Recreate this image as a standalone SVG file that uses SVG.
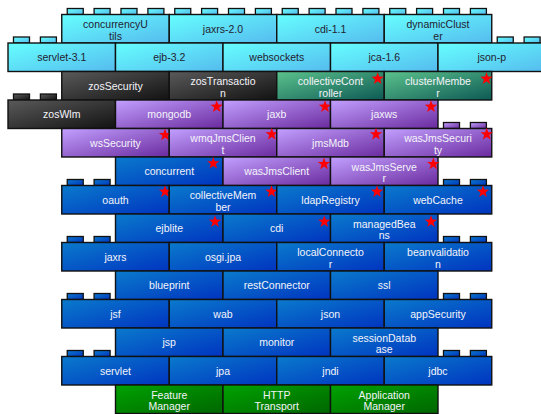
<svg xmlns="http://www.w3.org/2000/svg" xmlns:xlink="http://www.w3.org/1999/xlink" width="541" height="414" viewBox="0 0 541 414">
<defs>
<linearGradient id="gcy" x1="0" y1="0" x2="1" y2="1"><stop offset="0" stop-color="#66FFFF"/><stop offset="1" stop-color="#55BBEE"/></linearGradient>
<linearGradient id="gdk" x1="0" y1="0" x2="1" y2="1"><stop offset="0" stop-color="#5A5A5A"/><stop offset="1" stop-color="#121212"/></linearGradient>
<linearGradient id="gtl" x1="0" y1="0" x2="1" y2="1"><stop offset="0" stop-color="#5CC28C"/><stop offset="1" stop-color="#0D5A55"/></linearGradient>
<linearGradient id="gpu" x1="0" y1="0" x2="1" y2="1"><stop offset="0" stop-color="#C2A0FF"/><stop offset="1" stop-color="#6A2A9E"/></linearGradient>
<linearGradient id="gbl" x1="0" y1="0" x2="1" y2="1"><stop offset="0" stop-color="#0A7ACC"/><stop offset="1" stop-color="#0034C0"/></linearGradient>
<linearGradient id="ggr" x1="0" y1="0" x2="1" y2="1"><stop offset="0" stop-color="#00A200"/><stop offset="1" stop-color="#006600"/></linearGradient>
<path id="star" d="M0,-6.5 L1.53,-2.1 L6.18,-2.01 L2.47,0.8 L3.82,5.26 L0,2.6 L-3.82,5.26 L-2.47,0.8 L-6.18,-2.01 L-1.53,-2.1 Z" fill="#FF0000"/>
</defs>
<style>
rect{stroke:#111;stroke-width:1.4}
.cy{fill:url(#gcy)}.dk{fill:url(#gdk)}.tl{fill:url(#gtl)}.pu{fill:url(#gpu)}.bl{fill:url(#gbl)}.gr{fill:url(#ggr)}
.s{stroke-width:1.3}
text{font-family:"Liberation Sans",Arial,sans-serif;font-size:10.5px;text-anchor:middle}
.k{fill:#222230}.w{fill:#F4F4FA}
</style>
<rect width="541" height="414" fill="#FFFFFF" style="stroke:none"/>
<g id="connectors"/>

<!-- Row 0 -->
<g id="concurrencyUtils"><rect class="cy s" x="67.25" y="8.5" width="16" height="6"/><rect class="cy s" x="94.1" y="8.5" width="16" height="6"/><rect class="cy s" x="121" y="8.5" width="16" height="6"/><rect class="cy s" x="147.9" y="8.5" width="16" height="6"/><rect class="cy" x="61.75" y="14.5" width="107.5" height="28.5"/><text class="k" x="115.5" y="28">concurrencyU</text><text class="k" x="115.5" y="39.5">tils</text></g>
<g id="jaxrs-2.0"><rect class="cy s" x="174.75" y="8.5" width="16" height="6"/><rect class="cy s" x="201.6" y="8.5" width="16" height="6"/><rect class="cy s" x="228.5" y="8.5" width="16" height="6"/><rect class="cy s" x="255.4" y="8.5" width="16" height="6"/><rect class="cy" x="169.25" y="14.5" width="107.5" height="28.5"/><text class="k" x="223" y="32.7">jaxrs-2.0</text></g>
<g id="cdi-1.1"><rect class="cy s" x="282.25" y="8.5" width="16" height="6"/><rect class="cy s" x="309.1" y="8.5" width="16" height="6"/><rect class="cy s" x="336" y="8.5" width="16" height="6"/><rect class="cy s" x="362.9" y="8.5" width="16" height="6"/><rect class="cy" x="276.75" y="14.5" width="107.5" height="28.5"/><text class="k" x="330.5" y="32.7">cdi-1.1</text></g>
<g id="dynamicCluster"><rect class="cy s" x="389.75" y="8.5" width="16" height="6"/><rect class="cy s" x="416.6" y="8.5" width="16" height="6"/><rect class="cy s" x="443.5" y="8.5" width="16" height="6"/><rect class="cy s" x="470.4" y="8.5" width="16" height="6"/><rect class="cy" x="384.25" y="14.5" width="107.5" height="28.5"/><text class="k" x="438" y="28">dynamicClust</text><text class="k" x="438" y="39.5">er</text></g>

<!-- Row 1 -->
<g id="servlet-3.1"><rect class="cy s" x="13.5" y="37" width="16" height="6"/><rect class="cy s" x="40.4" y="37" width="16" height="6"/><rect class="cy" x="8" y="43" width="107.5" height="28.5"/><text class="k" x="61.75" y="61.2">servlet-3.1</text></g>
<g id="ejb-3.2"><rect class="cy" x="115.5" y="43" width="107.5" height="28.5"/><text class="k" x="169.25" y="61.2">ejb-3.2</text></g>
<g id="websockets"><rect class="cy" x="223" y="43" width="107.5" height="28.5"/><text class="k" x="276.75" y="61.2">websockets</text></g>
<g id="jca-1.6"><rect class="cy" x="330.5" y="43" width="107.5" height="28.5"/><text class="k" x="384.25" y="61.2">jca-1.6</text></g>
<g id="json-p"><rect class="cy s" x="497.25" y="37" width="16" height="6"/><rect class="cy s" x="524.1" y="37" width="16" height="6"/><rect class="cy" x="438" y="43" width="107.5" height="28.5"/><text class="k" x="491.75" y="61.2">json-p</text></g>

<!-- Row 2 -->
<g id="zosSecurity"><rect class="dk" x="61.75" y="71.5" width="107.5" height="28.5"/><text class="w" x="115.5" y="89.7">zosSecurity</text></g>
<g id="zosTransaction"><rect class="dk" x="169.25" y="71.5" width="107.5" height="28.5"/><text class="w" x="223" y="85">zosTransactio</text><text class="w" x="223" y="96.5">n</text></g>
<g id="collectiveController"><rect class="tl" x="276.75" y="71.5" width="107.5" height="28.5"/><text class="w" x="330.5" y="85">collectiveCont</text><text class="w" x="330.5" y="96.5">roller</text><use xlink:href="#star" x="377.7" y="78.7"/></g>
<g id="clusterMember"><rect class="tl" x="384.25" y="71.5" width="107.5" height="28.5"/><text class="w" x="438" y="85">clusterMembe</text><text class="w" x="438" y="96.5">r</text><use xlink:href="#star" x="486.5" y="78.7"/></g>

<!-- Row 3 -->
<g id="zosWlm"><rect class="dk s" x="13.5" y="94" width="16" height="6"/><rect class="dk s" x="40.4" y="94" width="16" height="6"/><rect class="dk" x="8" y="100" width="107.5" height="28.5"/><text class="w" x="61.75" y="118.2">zosWlm</text></g>
<g id="mongodb"><rect class="pu" x="115.5" y="100" width="107.5" height="28.5"/><text class="w" x="169.25" y="118.2">mongodb</text><use xlink:href="#star" x="216.7" y="106.7"/></g>
<g id="jaxb"><rect class="pu" x="223" y="100" width="107.5" height="28.5"/><text class="w" x="276.75" y="118.2">jaxb</text><use xlink:href="#star" x="325" y="106.7"/></g>
<g id="jaxws"><rect class="pu" x="330.5" y="100" width="107.5" height="28.5"/><text class="w" x="384.25" y="118.2">jaxws</text><use xlink:href="#star" x="431" y="106.7"/></g>

<!-- Row 4 -->
<g id="wsSecurity"><rect class="pu" x="61.75" y="128.5" width="107.5" height="28.5"/><text class="w" x="115.5" y="146.7">wsSecurity</text><use xlink:href="#star" x="165" y="135"/></g>
<g id="wmqJmsClient"><rect class="pu" x="169.25" y="128.5" width="107.5" height="28.5"/><text class="w" x="223" y="142">wmqJmsClien</text><text class="w" x="223" y="153.5">t</text><use xlink:href="#star" x="271.7" y="134.3"/></g>
<g id="jmsMdb"><rect class="pu" x="276.75" y="128.5" width="107.5" height="28.5"/><text class="w" x="330.5" y="146.7">jmsMdb</text><use xlink:href="#star" x="376" y="134.3"/></g>
<g id="wasJmsSecurity"><rect class="pu s" x="443.5" y="122.5" width="16" height="6"/><rect class="pu s" x="470.4" y="122.5" width="16" height="6"/><rect class="pu" x="384.25" y="128.5" width="107.5" height="28.5"/><text class="w" x="438" y="142">wasJmsSecuri</text><text class="w" x="438" y="153.5">ty</text><use xlink:href="#star" x="486.7" y="134.3"/></g>

<!-- Row 5 -->
<g id="concurrent"><rect class="bl" x="115.5" y="157" width="107.5" height="28.5"/><text class="w" x="169.25" y="175.2">concurrent</text><use xlink:href="#star" x="213.3" y="163.3"/></g>
<g id="wasJmsClient"><rect class="pu" x="223" y="157" width="107.5" height="28.5"/><text class="w" x="276.75" y="175.2">wasJmsClient</text><use xlink:href="#star" x="324" y="164"/></g>
<g id="wasJmsServer"><rect class="pu" x="330.5" y="157" width="107.5" height="28.5"/><text class="w" x="384.25" y="170.5">wasJmsServe</text><text class="w" x="384.25" y="182">r</text><use xlink:href="#star" x="433.3" y="164"/></g>

<!-- Row 6 -->
<g id="oauth"><rect class="bl s" x="67.25" y="179.5" width="16" height="6"/><rect class="bl s" x="94.1" y="179.5" width="16" height="6"/><rect class="bl" x="61.75" y="185.5" width="107.5" height="28.5"/><text class="w" x="115.5" y="203.7">oauth</text><use xlink:href="#star" x="165" y="191.7"/></g>
<g id="collectiveMember"><rect class="bl" x="169.25" y="185.5" width="107.5" height="28.5"/><text class="w" x="223" y="199">collectiveMem</text><text class="w" x="223" y="210.5">ber</text><use xlink:href="#star" x="271.5" y="191.7"/></g>
<g id="ldapRegistry"><rect class="bl" x="276.75" y="185.5" width="107.5" height="28.5"/><text class="w" x="330.5" y="203.7">ldapRegistry</text><use xlink:href="#star" x="377" y="191.7"/></g>
<g id="webCache"><rect class="bl s" x="443.5" y="179.5" width="16" height="6"/><rect class="bl s" x="470.4" y="179.5" width="16" height="6"/><rect class="bl" x="384.25" y="185.5" width="107.5" height="28.5"/><text class="w" x="438" y="203.7">webCache</text><use xlink:href="#star" x="483" y="191.7"/></g>

<!-- Row 7 -->
<g id="ejblite"><rect class="bl" x="115.5" y="214" width="107.5" height="28.5"/><text class="w" x="169.25" y="232.2">ejblite</text><use xlink:href="#star" x="215" y="221.7"/></g>
<g id="cdi"><rect class="bl" x="223" y="214" width="107.5" height="28.5"/><text class="w" x="276.75" y="232.2">cdi</text><use xlink:href="#star" x="324.3" y="221.7"/></g>
<g id="managedBeans"><rect class="bl" x="330.5" y="214" width="107.5" height="28.5"/><text class="w" x="384.25" y="227.5">managedBea</text><text class="w" x="384.25" y="239">ns</text><use xlink:href="#star" x="431" y="221.7"/></g>

<!-- Row 8 -->
<g id="jaxrs"><rect class="bl s" x="67.25" y="236.5" width="16" height="6"/><rect class="bl s" x="94.1" y="236.5" width="16" height="6"/><rect class="bl" x="61.75" y="242.5" width="107.5" height="28.5"/><text class="w" x="115.5" y="260.7">jaxrs</text></g>
<g id="osgi.jpa"><rect class="bl" x="169.25" y="242.5" width="107.5" height="28.5"/><text class="w" x="223" y="260.7">osgi.jpa</text></g>
<g id="localConnector"><rect class="bl" x="276.75" y="242.5" width="107.5" height="28.5"/><text class="w" x="330.5" y="256">localConnecto</text><text class="w" x="330.5" y="267.5">r</text></g>
<g id="beanvalidation"><rect class="bl s" x="443.5" y="236.5" width="16" height="6"/><rect class="bl s" x="470.4" y="236.5" width="16" height="6"/><rect class="bl" x="384.25" y="242.5" width="107.5" height="28.5"/><text class="w" x="438" y="256">beanvalidatio</text><text class="w" x="438" y="267.5">n</text></g>

<!-- Row 9 -->
<g id="blueprint"><rect class="bl" x="115.5" y="271" width="107.5" height="28.5"/><text class="w" x="169.25" y="289.2">blueprint</text></g>
<g id="restConnector"><rect class="bl" x="223" y="271" width="107.5" height="28.5"/><text class="w" x="276.75" y="289.2">restConnector</text></g>
<g id="ssl"><rect class="bl" x="330.5" y="271" width="107.5" height="28.5"/><text class="w" x="384.25" y="289.2">ssl</text></g>

<!-- Row 10 -->
<g id="jsf"><rect class="bl s" x="67.25" y="293.5" width="16" height="6"/><rect class="bl s" x="94.1" y="293.5" width="16" height="6"/><rect class="bl" x="61.75" y="299.5" width="107.5" height="28.5"/><text class="w" x="115.5" y="317.7">jsf</text></g>
<g id="wab"><rect class="bl" x="169.25" y="299.5" width="107.5" height="28.5"/><text class="w" x="223" y="317.7">wab</text></g>
<g id="json"><rect class="bl" x="276.75" y="299.5" width="107.5" height="28.5"/><text class="w" x="330.5" y="317.7">json</text></g>
<g id="appSecurity"><rect class="bl s" x="443.5" y="293.5" width="16" height="6"/><rect class="bl s" x="470.4" y="293.5" width="16" height="6"/><rect class="bl" x="384.25" y="299.5" width="107.5" height="28.5"/><text class="w" x="438" y="317.7">appSecurity</text></g>

<!-- Row 11 -->
<g id="jsp"><rect class="bl" x="115.5" y="328" width="107.5" height="28.5"/><text class="w" x="169.25" y="346.2">jsp</text></g>
<g id="monitor"><rect class="bl" x="223" y="328" width="107.5" height="28.5"/><text class="w" x="276.75" y="346.2">monitor</text></g>
<g id="sessionDatabase"><rect class="bl" x="330.5" y="328" width="107.5" height="28.5"/><text class="w" x="384.25" y="341.5">sessionDatab</text><text class="w" x="384.25" y="353">ase</text></g>

<!-- Row 12 -->
<g id="servlet"><rect class="bl s" x="67.25" y="350.5" width="16" height="6"/><rect class="bl s" x="94.1" y="350.5" width="16" height="6"/><rect class="bl" x="61.75" y="356.5" width="107.5" height="28.5"/><text class="w" x="115.5" y="374.7">servlet</text></g>
<g id="jpa"><rect class="bl" x="169.25" y="356.5" width="107.5" height="28.5"/><text class="w" x="223" y="374.7">jpa</text></g>
<g id="jndi"><rect class="bl" x="276.75" y="356.5" width="107.5" height="28.5"/><text class="w" x="330.5" y="374.7">jndi</text></g>
<g id="jdbc"><rect class="bl s" x="443.5" y="350.5" width="16" height="6"/><rect class="bl s" x="470.4" y="350.5" width="16" height="6"/><rect class="bl" x="384.25" y="356.5" width="107.5" height="28.5"/><text class="w" x="438" y="374.7">jdbc</text></g>

<!-- Row 13 -->
<g id="featureManager"><rect class="gr" x="115.5" y="385" width="107.5" height="28.5"/><text class="w" x="169.25" y="398.5">Feature</text><text class="w" x="169.25" y="410">Manager</text></g>
<g id="httpTransport"><rect class="gr" x="223" y="385" width="107.5" height="28.5"/><text class="w" x="276.75" y="398.5">HTTP</text><text class="w" x="276.75" y="410">Transport</text></g>
<g id="applicationManager"><rect class="gr" x="330.5" y="385" width="107.5" height="28.5"/><text class="w" x="384.25" y="398.5">Application</text><text class="w" x="384.25" y="410">Manager</text></g>
</svg>
